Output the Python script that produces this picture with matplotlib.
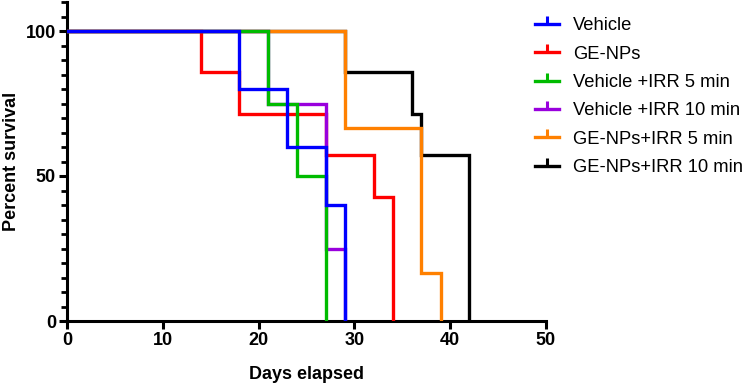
import matplotlib
matplotlib.use('Agg')
import matplotlib.pyplot as plt
from matplotlib.lines import Line2D
from matplotlib.ticker import MultipleLocator

plt.rcParams['font.family'] = ['Liberation Sans', 'DejaVu Sans']

# ── Data (Kaplan-Meier steps: event days and survival after each step) ────────
labels = ['Vehicle', 'GE-NPs', 'Vehicle +IRR 5 min', 'Vehicle +IRR 10 min',
          'GE-NPs+IRR 5 min', 'GE-NPs+IRR 10 min']
colors = ['#0000ff', '#ff0000', '#00bb00', '#9900dd', '#ff8000', '#000000']

vehicle_days   = [0, 18, 23, 27, 29]
vehicle_surv   = [100, 80, 60, 40, 0]
genp_days      = [0, 14, 18, 27, 32, 34]
genp_surv      = [100, 85.7, 71.4, 57.1, 42.9, 0]
veh_irr5_days  = [0, 21, 24, 27]
veh_irr5_surv  = [100, 75, 50, 0]
veh_irr10_days = [0, 21, 27, 29]
veh_irr10_surv = [100, 75, 25, 0]
genp_irr5_days = [0, 29, 37, 39]
genp_irr5_surv = [100, 66.7, 16.7, 0]
genp_irr10_days = [0, 29, 36, 37, 42]
genp_irr10_surv = [100, 85.7, 71.4, 57.1, 0]

series = [
    (vehicle_days, vehicle_surv),
    (genp_days, genp_surv),
    (veh_irr5_days, veh_irr5_surv),
    (veh_irr10_days, veh_irr10_surv),
    (genp_irr5_days, genp_irr5_surv),
    (genp_irr10_days, genp_irr10_surv),
]
zorders = [8, 5, 7, 6, 4, 3]

fig = plt.figure(figsize=(7.44, 3.85), dpi=100)
ax = fig.add_axes([67 / 744, 1 - 321 / 385, (546 - 67) / 744, 319 / 385])

for (d, s), c, z in zip(series, colors, zorders):
    ax.step(d, s, where='post', color=c, lw=2.4, zorder=z, solid_joinstyle='miter')

ax.set_xlim(0, 50)
ax.set_ylim(0, 110)
ax.set_xticks([0, 10, 20, 30, 40, 50])
ax.set_yticks([0, 50, 100])
ax.yaxis.set_minor_locator(MultipleLocator(5))

for side in ['top', 'right']:
    ax.spines[side].set_visible(False)
for side in ['left', 'bottom']:
    ax.spines[side].set_linewidth(2.2)

ax.tick_params(axis='both', which='major', width=2.2, length=6,
               labelsize=13, pad=2)
ax.tick_params(axis='y', which='minor', width=2.0, length=4)
for t in ax.get_xticklabels() + ax.get_yticklabels():
    t.set_fontweight('bold')

ax.set_xlabel('Days elapsed', fontsize=13, fontweight='bold', labelpad=12)
ax.set_ylabel('Percent survival', fontsize=13, fontweight='bold', labelpad=4)

handles = [Line2D([], [], color=c, lw=2.4, marker=2, markersize=6,
                  markeredgewidth=2.2) for c in colors]
leg = ax.legend(handles, labels, loc='upper left',
                bbox_to_anchor=(528 / 744, 1 - 10 / 385),
                bbox_transform=fig.transFigure, frameon=False,
                fontsize=13.2, handlelength=1.3, handletextpad=0.75,
                labelspacing=0.62, borderaxespad=0)
leg.set_zorder(10)

fig.savefig('out.png', dpi=100)
